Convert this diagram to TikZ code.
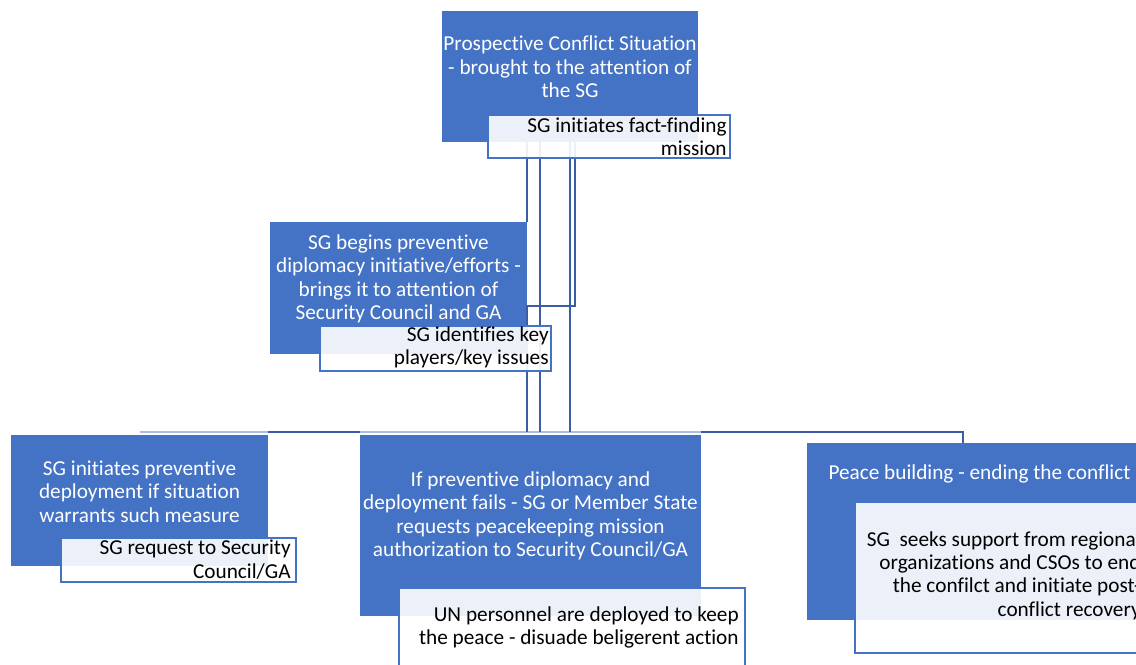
\documentclass[tikz,border=0pt]{standalone}
\usepackage{fontspec}
\setmainfont{Carlito}[Ligatures=NoCommon]
\definecolor{boxblue}{HTML}{4472C4}
\definecolor{linedark}{HTML}{3A5DA5}
\definecolor{linelight}{HTML}{A9BDE5}
\tikzset{
	box/.style={fill=boxblue,draw=none,inner sep=0pt},
	subbox/.style={draw=boxblue,line width=1.1pt,fill=white,fill opacity=0.9,inner sep=0pt},
	wtxt/.style={text=white,align=center,inner sep=0pt,font=\fontsize{12.1}{13.3}\selectfont},
	btxt/.style={text=black,align=right,inner sep=0pt,anchor=east,font=\fontsize{12.1}{13.3}\selectfont},
	conn/.style={draw=linedark,line width=1.1pt},
	connlight/.style={draw=linelight,line width=1pt}
}
\begin{document}
\begin{tikzpicture}[x=0.02cm,y=-0.02cm]
	  \useasboundingbox (0,0) rectangle (1136,664);
	  \clip (0,0) rectangle (1136,664);

	  \node[box,minimum width=5.12cm,minimum height=2.62cm] (sit) at (570,76.5) {};
	  \node[box,minimum width=5.14cm,minimum height=2.64cm] (diplo) at (398.5,288) {};
	  \node[box,minimum width=5.14cm,minimum height=2.62cm] (dep) at (139.5,500.5) {};
	  \node[box,minimum width=6.82cm,minimum height=3.62cm] (keep) at (530.5,525.5) {};
	  \node[box,minimum width=6.90cm,minimum height=3.54cm] (build) at (979.5,531.5) {};

	  \coordinate (bus) at (139.5,432);
	  \coordinate (busend) at (963,432);
	  \draw[connlight] (bus) -- (busend);
	  \draw[conn] (dep.north east |- bus) -- (keep.north west |- bus);
	  \draw[conn] (keep.north east |- bus) -- (busend) -- (busend |- build.north);
	  \draw[conn] (diplo.east |- sit.south) -- (diplo.north east);
	  \draw[conn] ([xshift=-0.6cm]sit.south) -- ++(0,290);
	  \draw[conn] (sit.south) -- (sit.south |- bus);
	  \draw[conn] ([xshift=0.1cm]sit.south) -- ++(0,164) -| (diplo.east |- bus);

	  \node[subbox,minimum width=4.84cm,minimum height=0.86cm] (fact) at (609,136.5) {};
	  \node[subbox,minimum width=4.62cm,minimum height=0.90cm] (keyp) at (435.5,348.5) {};
	  \node[subbox,minimum width=4.70cm,minimum height=0.88cm] (req) at (178.5,560) {};
	  \node[subbox,minimum width=6.92cm,minimum height=1.58cm] (unp) at (572,627.5) {};
	  \node[subbox,minimum width=5.84cm,minimum height=3.02cm] (seek) at (1001,577.5) {};

	  \node[wtxt] (sit-t) at (570,67) {Prospective Conflict Situation\\- brought to the attention of\\the SG};
	  \node[wtxt] (diplo-t) at (398.5,279) {SG begins preventive\\diplomacy initiative/efforts -\\brings it to attention of\\Security Council and GA};
	  \node[wtxt] (dep-t) at (139.5,491.5) {SG initiates preventive\\deployment if situation\\warrants such measure};
	  \node[wtxt] (keep-t) at (530.5,516) {If preventive diplomacy and\\deployment fails - SG or Member State\\requests peacekeeping mission\\authorization to Security Council/GA};
	  \node[wtxt] (build-t) at (979.5,474) {Peace building - ending the conflict};

	  \node[btxt] (fact-t) at (727,136.5) {SG initiates fact-finding\\mission};
	  \node[btxt] (keyp-t) at (549,347.5) {SG identifies key\\players/key issues};
	  \node[btxt] (req-t) at (291,559.5) {SG request to Security\\Council/GA};
	  \node[btxt] (unp-t) at (739,627.5) {UN personnel are deployed to keep\\the peace - disuade beligerent action};
	  \node[btxt] (seek-t) at (1141,575.5) {SG\ \ seeks support from regional\\organizations and CSOs to end\\the confilct and initiate post-\\conflict recovery};
	\end{tikzpicture}
\end{document}
